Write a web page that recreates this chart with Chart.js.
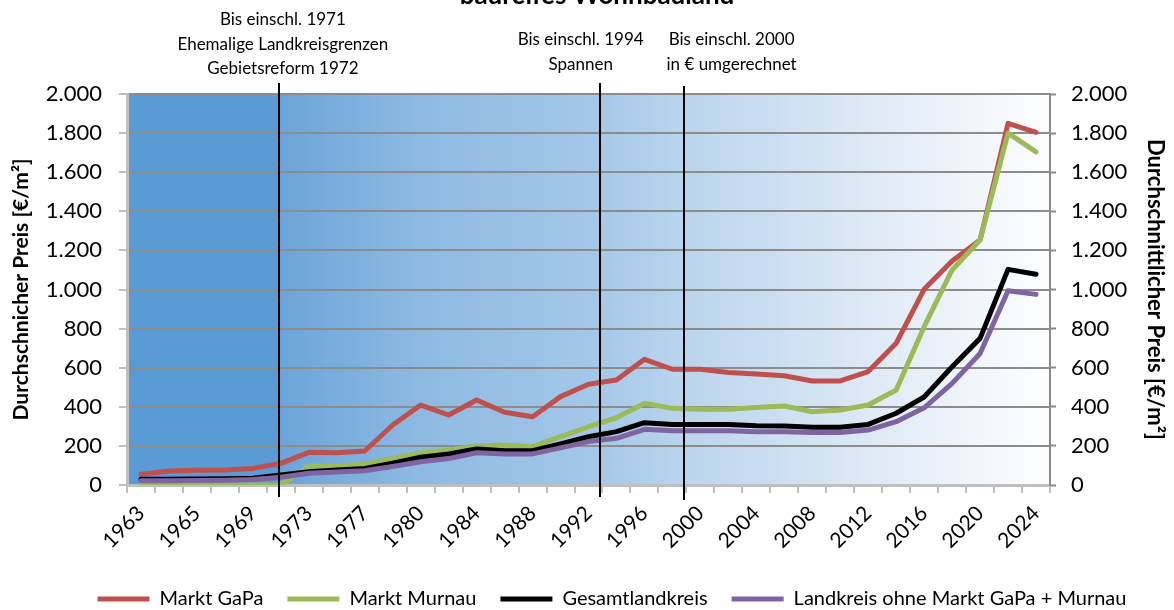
<!DOCTYPE html>
<html><head><meta charset="utf-8">
<script src="https://cdn.jsdelivr.net/npm/chart.js@4/dist/chart.umd.min.js"></script>
<style>html,body{margin:0;padding:0;background:#fff;overflow:hidden}#wrap{width:1174px;height:610px;position:relative}</style>
</head><body><div id="wrap"><canvas id="c" width="1174" height="610"></canvas></div>
<script>
// Categories (every other year is labelled on the axis)
const years = ['1963','1964','1965','1967','1969','1971','1973','1975','1977','1979','1980','1982','1984','1986','1988','1990','1992','1994','1996','1998','2000','2002','2004','2006','2008','2010','2012','2014','2016','2018','2020','2022','2024'];
const marktGaPa = [55,72,75,77,85,111,167,165,174,307,409,358,435,372,349,452,515,537,643,592,592,576,568,559,532,532,580,725,1001,1146,1253,1850,1804];
const marktMurnau = [0,0,0,0,0,0,97,99,106,136,165,179,201,205,196,247,298,344,418,392,387,387,397,404,375,384,409,486,810,1100,1253,1800,1704];
const gesamtlandkreis = [30,30,31,32,35,51,68,77,85,111,142,159,184,175,175,210,247,273,319,310,310,310,303,302,295,295,310,367,450,605,750,1103,1078];
const landkreisOhne = [22,22,23,24,28,40,60,66,73,95,119,135,165,158,159,190,222,239,285,278,278,278,273,273,268,268,281,324,395,520,673,994,975];
const seriesNames = ['Markt GaPa','Markt Murnau','Gesamtlandkreis','Landkreis ohne Markt GaPa + Murnau'];
const yTicks = [0,200,400,600,800,1000,1200,1400,1600,1800,2000];
const titleText = 'baureifes Wohnbauland';
const leftAxisTitle = 'Durchschnicher Preis [€/m²]';
const rightAxisTitle = 'Durchschnittlicher Preis [€/m²]';
const notes = [
  {idx: 4.93, lines: ['Bis einschl. 1971','Ehemalige Landkreisgrenzen','Gebietsreform 1972']},
  {idx: 16.4, lines: ['Bis einschl. 1994','Spannen']},
  {idx: 19.4, lines: ['Bis einschl. 2000','in € umgerechnet']}
];

const FONT = 'Lato';
function fmt(v){ v = Math.round(v); return v >= 1000 ? Math.floor(v/1000) + '.' + String(v % 1000).padStart(3,'0') : String(v); }

const bgPlugin = {
  id: 'bg',
  beforeDraw(chart){
    const {ctx, chartArea: a} = chart;
    const g = ctx.createLinearGradient(a.left, 0, a.right, 0);
    g.addColorStop(0, '#5B9BD5');
    g.addColorStop(0.163, '#5B9BD5');
    g.addColorStop(0.168, '#6CA5D9');
    g.addColorStop(0.32, '#8EBAE2');
    g.addColorStop(0.5, '#A3C7E8');
    g.addColorStop(0.62, '#BDD6EE');
    g.addColorStop(0.8, '#DDE9F5');
    g.addColorStop(0.9, '#EEF4FA');
    g.addColorStop(1, '#FDFEFF');
    ctx.save();
    ctx.fillStyle = g;
    ctx.fillRect(a.left, a.top, a.right - a.left, a.bottom - a.top);
    ctx.restore();
  },
  afterLayout(chart){
    const lg = chart.legend;
    if (lg) { lg.left += 25; lg.right += 25; }
  }
};

const notesPlugin = {
  id: 'notes',
  afterDatasetsDraw(chart){
    const {ctx, chartArea: a, scales} = chart;
    const x = scales.x;
    ctx.save();
    ctx.strokeStyle = '#000';
    ctx.lineWidth = 2;
    const offs = [[-11, 12], [-11, 12], [-8, 15]];
    notes.forEach((n, i) => {
      const px = Math.round(x.getPixelForValue(n.idx));
      ctx.beginPath();
      ctx.moveTo(px, a.top + offs[i][0]);
      ctx.lineTo(px, a.bottom + offs[i][1]);
      ctx.stroke();
    });
    ctx.restore();
  },
  afterDraw(chart){
    const {ctx, scales} = chart;
    const x = scales.x;
    ctx.save();
    ctx.fillStyle = '#000';
    ctx.textAlign = 'center';
    ctx.textBaseline = 'middle';
    ctx.font = '17px ' + FONT;
    const dx = [4, -19, 48];
    const y0 = [20, 40, 40];
    notes.forEach((n, i) => {
      const px = x.getPixelForValue(n.idx) + dx[i];
      n.lines.forEach((t, j) => ctx.fillText(t, px, y0[i] + j * 24.5));
    });
    ctx.font = 'bold 26px ' + FONT;
    ctx.textBaseline = 'alphabetic';
    ctx.fillText(titleText, 597, 4);
    ctx.restore();
  }
};

const colors = ['#C0504D', '#9BBB59', '#000000', '#8064A2'];
const dataArr = [marktGaPa, marktMurnau, gesamtlandkreis, landkreisOhne];
const datasets = dataArr.map((d, i) => ({
  label: seriesNames[i],
  data: d,
  borderColor: colors[i],
  backgroundColor: colors[i],
  borderWidth: 5,
  borderCapStyle: 'round',
  borderJoinStyle: 'round',
  pointRadius: 0,
  pointHoverRadius: 0,
  tension: 0,
  yAxisID: 'y',
  order: 3 - i
}));

new Chart(document.getElementById('c'), {
  type: 'line',
  data: { labels: years, datasets },
  options: {
    responsive: false,
    animation: false,
    layout: { padding: { top: 94, bottom: -9, left: 0, right: 0 } },
    plugins: {
      tooltip: { enabled: false },
      legend: {
        position: 'bottom',
        labels: {
          usePointStyle: true,
          pointStyle: 'line',
          pointStyleWidth: 52,
          color: '#000',
          padding: 24,
          font: { family: FONT, size: 20 },
          sort: (a, b) => a.datasetIndex - b.datasetIndex
        }
      }
    },
    scales: {
      x: {
        type: 'category',
        offset: true,
        afterFit: s => { s.height = 80; },
        grid: { offset: true, drawOnChartArea: false, tickLength: 8, color: '#BFBFBF', lineWidth: 2 },
        border: { color: '#BFBFBF', width: 3 },
        ticks: {
          autoSkip: false, maxRotation: 45, minRotation: 45, padding: 8, color: '#000',
          font: { family: FONT, size: 21 },
          callback: function(v, i){ return i % 2 === 0 ? this.getLabelForValue(v) : ''; }
        }
      },
      y: {
        position: 'left',
        min: 0, max: 2000,
        afterFit: s => { s.width = 127; },
        afterBuildTicks: s => { s.ticks = yTicks.map(v => ({value: v})); },
        grid: { color: '#8C8C8C', lineWidth: 2, borderDash: [1.5, 2.5], tickLength: 8, tickColor: '#BFBFBF', tickWidth: 2, tickBorderDash: [] },
        border: { color: '#BFBFBF', width: 3 },
        ticks: { color: '#000', padding: 17, font: { family: FONT, size: 22 }, callback: v => fmt(v) },
        title: { display: true, text: leftAxisTitle, color: '#000', font: { family: FONT, size: 21, weight: 'bold' }, padding: { top: 9, bottom: 0 } }
      },
      y2: {
        position: 'right',
        min: 0, max: 2000,
        afterFit: s => { s.width = 124; },
        afterBuildTicks: s => { s.ticks = yTicks.map(v => ({value: v})); },
        grid: { drawOnChartArea: false, tickLength: 6, tickColor: '#8A8A8A', tickWidth: 2 },
        border: { color: '#8A8A8A', width: 2 },
        ticks: { color: '#000', padding: 15, font: { family: FONT, size: 22 }, callback: v => fmt(v) },
        title: { display: true, text: rightAxisTitle, color: '#000', font: { family: FONT, size: 22, weight: 'bold' }, padding: { top: 6, bottom: 0 } }
      }
    }
  },
  plugins: [bgPlugin, notesPlugin]
});
</script>
</body></html>
